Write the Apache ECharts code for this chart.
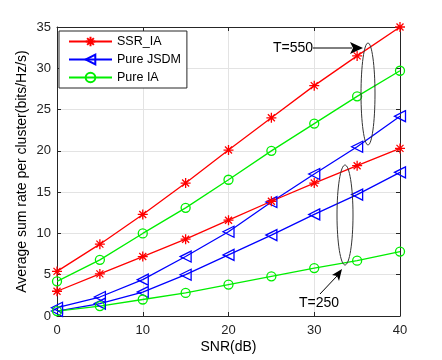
<!DOCTYPE html>
<html>
<head>
<meta charset="utf-8">
<script src="https://cdn.jsdelivr.net/npm/echarts@6/dist/echarts.min.js"></script>
<style>
  html, body { margin: 0; padding: 0; background: #fff; }
  #chart { width: 442px; height: 360px; }
</style>
</head>
<body>
<div id="chart"></div>
<script>
// SNR 横轴
const snr = [0, 5, 10, 15, 20, 25, 30, 35, 40];

// T=550
const ssrIa550 = [5.4, 8.7, 12.3, 16.1, 20.1, 24.0, 27.9, 31.5, 35.0];
const jsdm550 = [1.0, 2.3, 4.4, 7.2, 10.2, 13.8, 17.2, 20.5, 24.2];
const pureIa550 = [4.2, 6.8, 10.0, 13.1, 16.5, 20.0, 23.3, 26.6, 29.7];

// T=250
const ssrIa250 = [3.0, 5.1, 7.2, 9.3, 11.6, 13.9, 16.1, 18.2, 20.3];
const jsdm250 = [0.6, 1.5, 2.9, 5.0, 7.4, 9.8, 12.3, 14.7, 17.4];
const pureIa250 = [0.6, 1.2, 2.0, 2.8, 3.8, 4.8, 5.8, 6.7, 7.8];

const font = 'Liberation Sans, Arial, sans-serif';
const axisColor = '#262626';

const asterisk = 'path://M5,0L5,10M0,5L10,5M1.5,1.5L8.5,8.5M1.5,8.5L8.5,1.5';
const leftTri = 'path://M10,0L0,5L10,10Z';

function pairs(ys) {
  return snr.map((x, i) => [x, ys[i]]);
}

function makeSeries(name, color, symbol, size, ys) {
  return {
    name: name,
    type: 'line',
    data: pairs(ys),
    symbol: symbol,
    symbolSize: size,
    lineStyle: { color: color, width: 1.3 },
    itemStyle: { color: 'rgba(0,0,0,0)', borderColor: color, borderWidth: 1.3 },
    emphasis: { disabled: true },
    animation: false
  };
}

const chart = echarts.init(document.getElementById('chart'));

const option = {
  animation: false,
  textStyle: { fontFamily: font },
  color: ['#ff0000', '#0000ff', '#00ff00'],
  grid: { left: 57, right: 42, top: 27, bottom: 44 },
  legend: {
    left: 59,
    top: 31,
    orient: 'vertical',
    itemWidth: 43,
    itemHeight: 12,
    itemGap: 5,
    padding: [4, 6, 4, 9],
    borderColor: axisColor,
    borderWidth: 1,
    backgroundColor: '#fff',
    textStyle: { fontSize: 12.5, color: '#000', fontFamily: font },
    data: ['SSR_IA', 'Pure JSDM', 'Pure IA']
  },
  xAxis: [
    {
      type: 'value',
      min: 0,
      max: 40,
      interval: 10,
      name: 'SNR(dB)',
      nameLocation: 'middle',
      nameGap: 24,
      nameMoveOverlap: false,
      nameTextStyle: { fontSize: 14, color: '#000' },
      axisLine: { onZero: false, lineStyle: { color: axisColor } },
      axisTick: { inside: true, length: 4, lineStyle: { color: axisColor } },
      axisLabel: { fontSize: 13, color: '#222', margin: 8 },
      splitLine: { show: true, lineStyle: { color: '#e3e3e3' } }
    },
    {
      type: 'value',
      position: 'top',
      min: 0,
      max: 40,
      interval: 10,
      axisLine: { onZero: false, lineStyle: { color: axisColor } },
      axisTick: { inside: true, length: 4, lineStyle: { color: axisColor } },
      axisLabel: { show: false },
      splitLine: { show: false }
    }
  ],
  yAxis: [
    {
      type: 'value',
      min: 0,
      max: 35,
      interval: 5,
      name: 'Average sum rate per cluster(bits/Hz/s)',
      nameLocation: 'middle',
      nameGap: 28,
      nameMoveOverlap: false,
      nameTextStyle: { fontSize: 14, color: '#000' },
      axisLine: { show: true, onZero: false, lineStyle: { color: axisColor } },
      axisTick: { show: true, inside: true, length: 4, lineStyle: { color: axisColor } },
      axisLabel: { fontSize: 13, color: '#222', margin: 6 },
      splitLine: { show: true, lineStyle: { color: '#e3e3e3' } }
    },
    {
      type: 'value',
      position: 'right',
      min: 0,
      max: 35,
      interval: 5,
      axisLine: { show: true, onZero: false, lineStyle: { color: axisColor } },
      axisTick: { show: true, inside: true, length: 4, lineStyle: { color: axisColor } },
      axisLabel: { show: false },
      splitLine: { show: false }
    }
  ],
  series: [
    makeSeries('SSR_IA', '#ff0000', asterisk, 10, ssrIa550),
    makeSeries('Pure JSDM', '#0000ff', leftTri, 11, jsdm550),
    makeSeries('Pure IA', '#00ee00', 'circle', 9, pureIa550),
    makeSeries('SSR_IA', '#ff0000', asterisk, 10, ssrIa250),
    makeSeries('Pure JSDM', '#0000ff', leftTri, 11, jsdm250),
    makeSeries('Pure IA', '#00ee00', 'circle', 9, pureIa250)
  ],
  graphic: [
    // T=550 标注
    { type: 'ellipse', shape: { cx: 368, cy: 94, rx: 7, ry: 51 }, style: { fill: 'none', stroke: '#333', lineWidth: 1 }, z: 100 },
    { type: 'line', shape: { x1: 313, y1: 48, x2: 352, y2: 48 }, style: { stroke: '#000', lineWidth: 1 }, z: 100 },
    { type: 'polygon', shape: { points: [[363, 48], [350, 42], [353, 48], [350, 54]] }, style: { fill: '#000' }, z: 100 },
    { type: 'text', x: 273, y: 41, style: { text: 'T=550', fontSize: 14, fill: '#000', fontFamily: font }, z: 100 },
    // T=250 标注
    { type: 'ellipse', shape: { cx: 345, cy: 215, rx: 8, ry: 50 }, style: { fill: 'none', stroke: '#333', lineWidth: 1 }, z: 100 },
    { type: 'line', shape: { x1: 320, y1: 294, x2: 337, y2: 276 }, style: { stroke: '#000', lineWidth: 1 }, z: 100 },
    { type: 'polygon', shape: { points: [[342, 269], [332, 275], [337, 276], [339, 281]] }, style: { fill: '#000' }, z: 100 },
    { type: 'text', x: 299, y: 296, style: { text: 'T=250', fontSize: 14, fill: '#000', fontFamily: font }, z: 100 }
  ]
};

chart.setOption(option);
</script>
</body>
</html>
